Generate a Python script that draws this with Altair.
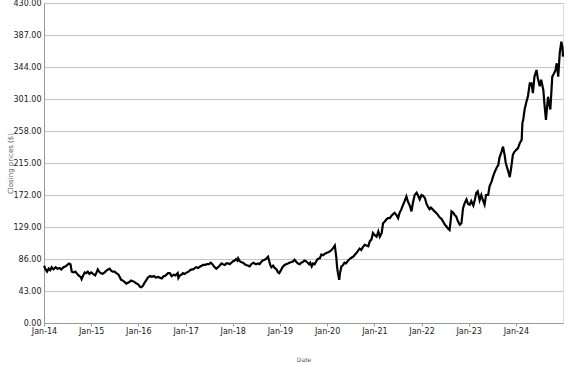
import altair as alt
import pandas as pd

dates = [
    "2014-01-02","2014-01-10","2014-01-25","2014-02-06","2014-02-18","2014-03-01","2014-03-15","2014-04-01","2014-04-15","2014-05-01","2014-05-15","2014-06-01","2014-06-15","2014-07-01","2014-07-12","2014-07-25","2014-08-04","2014-08-18","2014-09-01","2014-09-15","2014-10-01","2014-10-12","2014-10-19","2014-11-01","2014-11-12","2014-11-24","2014-12-06","2014-12-18",
    "2015-01-01","2015-01-15","2015-02-01","2015-02-12","2015-02-21","2015-03-04","2015-03-15","2015-04-01","2015-04-15","2015-04-27","2015-05-12","2015-05-24","2015-06-06","2015-06-18","2015-07-01","2015-07-15","2015-08-01","2015-08-09","2015-08-21","2015-09-04","2015-09-18","2015-10-01","2015-10-12","2015-10-24","2015-11-06","2015-11-21","2015-12-04","2015-12-18",
    "2016-01-01","2016-01-12","2016-01-24","2016-02-06","2016-02-18","2016-03-04","2016-03-15","2016-04-01","2016-04-15","2016-05-01","2016-05-15","2016-06-01","2016-06-15","2016-07-01","2016-07-15","2016-07-24","2016-08-06","2016-08-18","2016-09-01","2016-09-15","2016-10-01","2016-10-15","2016-11-01","2016-11-06","2016-11-18","2016-12-01","2016-12-12","2016-12-24",
    "2017-01-10","2017-01-24","2017-02-04","2017-02-18","2017-03-01","2017-03-15","2017-03-24","2017-04-09","2017-04-24","2017-05-06","2017-05-15","2017-06-01","2017-06-15","2017-07-01","2017-07-15","2017-07-27","2017-08-09","2017-08-27","2017-09-09","2017-09-21","2017-10-06","2017-10-18","2017-11-01","2017-11-12","2017-11-27","2017-12-09","2017-12-21",
    "2018-01-04","2018-01-15","2018-01-27","2018-02-06","2018-02-12","2018-02-24","2018-03-06","2018-03-21","2018-04-04","2018-04-15","2018-05-01","2018-05-12","2018-05-24","2018-06-09","2018-06-18","2018-07-01","2018-07-15","2018-07-27","2018-08-09","2018-08-21","2018-09-04","2018-09-15","2018-10-01","2018-10-09","2018-10-18","2018-10-27","2018-11-09","2018-11-21","2018-12-06","2018-12-18","2018-12-27",
    "2019-01-09","2019-01-21","2019-02-06","2019-02-18","2019-03-04","2019-03-15","2019-04-01","2019-04-15","2019-04-24","2019-05-09","2019-05-21","2019-06-04","2019-06-15","2019-06-27","2019-07-09","2019-07-21","2019-08-04","2019-08-15","2019-08-24","2019-09-04","2019-09-15","2019-09-27","2019-10-09","2019-10-21","2019-11-06","2019-11-18","2019-12-01","2019-12-15","2019-12-27",
    "2020-01-09","2020-01-21","2020-02-04","2020-02-18","2020-03-01","2020-03-06","2020-03-12","2020-03-18","2020-03-24","2020-04-04","2020-04-09","2020-04-21","2020-05-04","2020-05-15","2020-05-27","2020-06-12","2020-06-24","2020-07-09","2020-07-21","2020-08-04","2020-08-15","2020-08-27","2020-09-09","2020-09-21","2020-10-04","2020-10-18","2020-11-01","2020-11-15","2020-11-27","2020-12-09","2020-12-21",
    "2021-01-04","2021-01-18","2021-02-01","2021-02-12","2021-02-27","2021-03-09","2021-03-21","2021-04-04","2021-04-15","2021-05-01","2021-05-12","2021-05-24","2021-06-06","2021-06-21","2021-07-04","2021-07-15","2021-07-27","2021-08-12","2021-08-24","2021-09-06","2021-09-18","2021-10-04","2021-10-15","2021-10-27","2021-11-09","2021-11-24","2021-12-06","2021-12-18",
    "2022-01-01","2022-01-12","2022-01-27","2022-02-09","2022-02-21","2022-03-04","2022-03-15","2022-04-01","2022-04-12","2022-04-24","2022-05-09","2022-05-21","2022-06-04","2022-06-15","2022-07-01","2022-07-12","2022-07-24","2022-08-06","2022-08-15","2022-08-21","2022-09-04","2022-09-15","2022-09-27","2022-10-09","2022-10-24","2022-11-06","2022-11-18","2022-12-01","2022-12-15","2022-12-27",
    "2023-01-09","2023-01-21","2023-02-06","2023-02-18","2023-03-01","2023-03-12","2023-03-27","2023-04-09","2023-04-21","2023-05-04","2023-05-15","2023-06-01","2023-06-12","2023-06-27","2023-07-09","2023-07-24","2023-08-09","2023-08-18","2023-08-27","2023-09-12","2023-09-24","2023-10-06","2023-10-15","2023-10-27","2023-11-09","2023-11-15","2023-11-27","2023-12-09","2023-12-21",
    "2024-01-06","2024-01-18","2024-02-01","2024-02-15","2024-02-21","2024-02-27","2024-03-09","2024-03-21","2024-04-04","2024-04-18","2024-05-01","2024-05-12","2024-05-24","2024-06-09","2024-06-18","2024-07-04","2024-07-15","2024-08-01","2024-08-09","2024-08-21","2024-09-06","2024-09-15","2024-09-24","2024-10-09","2024-10-21","2024-11-04","2024-11-12","2024-11-24","2024-12-06","2024-12-18","2024-12-27","2024-12-31",
]

closes = [
    77,73,69,73,71,75,72,75,73,74,72,75,76,78,80,79,69,68,69,66,63,62,59,64,68,67,69,66,
    68,66,64,68,72,69,67,66,68,70,72,73,70,69,69,67,65,62,58,57,55,53,54,55,57,56,55,53,
    52,49,48,50,54,58,61,63,62,63,61,62,61,60,63,63,65,67,67,63,65,64,67,60.5,64,65,67,66,
    68,69,71,72,72,74,75,74,76,77,78,78,79,79,81,79,76,73,75,77,80,79,78,80,80,79,81,
    83,84,86,84,87,83,82,81,79,78,77,76,79,81,80,79,80,79,82,84,85,86,89,84,78,75,77,74,72,68,67,
    71,75,78,79,80,81,82,83,85,82,80,79,81,82,84,83,81,79,81,76,80,79,83,86,87,92,91,93,94,
    95,96,98,101,104,97,89,76,68,58,66,76,78,81,80,84,86,88,89,92,94,97,100,98,102,105,104,103,110,112,121,
    118,116,123,116,121,134,136,139,141,141,144,146,148,145,141,148,152,159,164,170,163,157,150,162,172,175,171,166,
    172,171,168,160,156,153,155,152,150,148,145,142,140,137,132,130,127,125,138,150,148,145,143,137,132,134,154,161,166,160,
    159,164,158,166,175,177,165,172,165,159,172,172,184,190,197,204,210,212,222,230,237,226,215,208,200,196,210,226,230,
    233,235,242,246,269,273,287,296,305,322,322,309,331,340,330,318,327,313,295,273,304,295,287,331,335,340,349,331,363,378,370,358,
]

years = list(range(2014, 2025))
y_ticks = [0, 43, 86, 129, 172, 215, 258, 301, 344, 387, 430]

df = pd.DataFrame({"Date": dates, "Close": closes})

chart = alt.Chart(df).mark_line(color="black", strokeWidth=2.2).encode(
    x=alt.X(
        "Date:T",
        scale=alt.Scale(type="utc", domain=[alt.DateTime(year=2014, month=1, date=1, utc=True),
                                            alt.DateTime(year=2024, month=12, date=31, utc=True)]),
        axis=alt.Axis(
            title="Date",
            format="%b-%y",
            values=[alt.DateTime(year=y, month=1, date=1, utc=True) for y in years],
            grid=False,
            domainColor="#999999",
            tickColor="#999999",
            tickSize=3,
            labelFlush=False,
            labelFont="DejaVu Sans",
            labelFontSize=8,
            labelColor="#222222",
            labelPadding=1,
            titleFont="DejaVu Sans",
            titleFontSize=6,
            titleFontWeight="normal",
            titleColor="#555555",
            titleY=33,
            titleBaseline="top",
        ),
    ),
    y=alt.Y(
        "Close:Q",
        scale=alt.Scale(domain=[0, 430], nice=False, zero=True),
        axis=alt.Axis(
            title="Closing prices ($)",
            values=y_ticks,
            format=".2f",
            grid=True,
            gridColor="#c4c4c4",
            gridWidth=1,
            domainColor="#999999",
            ticks=False,
            labelFont="DejaVu Sans",
            labelFontSize=8,
            labelColor="#222222",
            labelPadding=3,
            titleFont="DejaVu Sans",
            titleFontSize=7,
            titleFontWeight="normal",
            titleColor="#555555",
            titleX=-31,
            titleY=160,
        ),
    ),
).properties(
    width=519,
    height=320,
    autosize=alt.AutoSizeParams(type="none"),
    padding={"left": 44, "top": 3, "right": 14, "bottom": 44},
).configure_view(
    stroke="#aaaaaa",
    strokeWidth=1,
).configure(background="white")

chart.save("out.html", embed_options={"renderer": "svg", "actions": False})
